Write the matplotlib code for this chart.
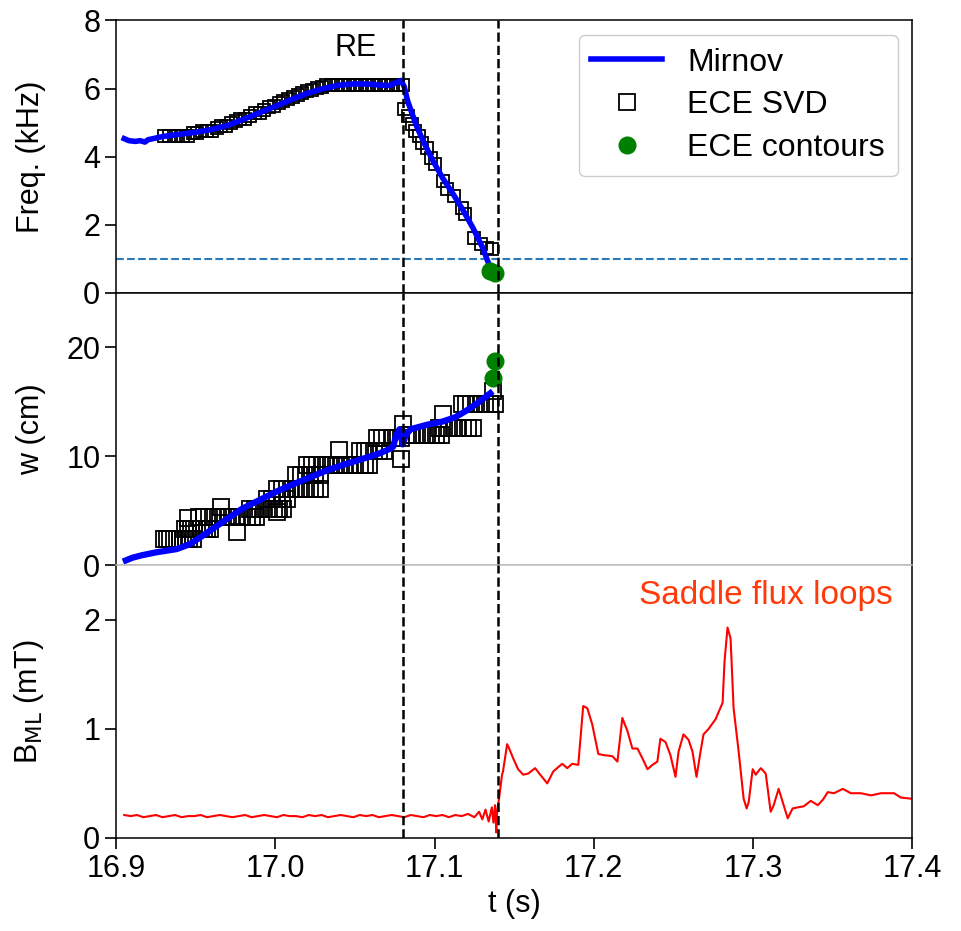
import numpy as np
import matplotlib.pyplot as plt

plt.rcParams['font.family'] = ['Liberation Sans', 'DejaVu Sans']

# frequency panel: Mirnov trace
mir_f_t = [16.905, 16.908, 16.912, 16.915, 16.918, 16.920, 16.925, 16.930, 16.940, 16.950,
           16.960, 16.970, 16.980, 16.990, 17.000, 17.010, 17.020, 17.030, 17.040, 17.050,
           17.060, 17.066, 17.072, 17.076, 17.079, 17.081, 17.083, 17.086, 17.089, 17.094,
           17.099, 17.105, 17.112, 17.118, 17.124, 17.130, 17.135]
mir_f = [4.53, 4.47, 4.45, 4.47, 4.43, 4.50, 4.55, 4.60, 4.66, 4.72,
         4.80, 4.92, 5.10, 5.29, 5.48, 5.68, 5.86, 6.00, 6.10, 6.14,
         6.13, 6.10, 6.09, 6.18, 6.24, 6.05, 5.65, 5.25, 4.86, 4.35,
         3.88, 3.38, 2.88, 2.42, 1.92, 1.35, 0.74]

# frequency panel: ECE SVD
svd_f_t = [16.930, 16.933, 16.936, 16.939, 16.942, 16.945, 16.948, 16.951, 16.954, 16.957,
           16.960, 16.963, 16.966, 16.969, 16.972, 16.975, 16.978, 16.981, 16.984, 16.987,
           16.990, 16.993, 16.996, 16.999, 17.002, 17.005, 17.008, 17.011, 17.014, 17.017,
           17.020, 17.023, 17.026, 17.029, 17.032, 17.035, 17.038, 17.041, 17.044, 17.047,
           17.050, 17.053, 17.056, 17.059, 17.062, 17.065, 17.068, 17.071, 17.074, 17.077,
           17.080, 17.0807, 17.083, 17.086, 17.088, 17.090, 17.092, 17.095, 17.098, 17.100,
           17.105, 17.108, 17.112, 17.117, 17.119, 17.125, 17.129, 17.133, 17.136]
svd_f = [4.62, 4.62, 4.62, 4.62, 4.62, 4.62, 4.70, 4.70, 4.76, 4.76,
         4.76, 4.85, 4.91, 4.91, 4.98, 5.05, 5.12, 5.12, 5.20, 5.29,
         5.29, 5.38, 5.45, 5.50, 5.58, 5.65, 5.70, 5.76, 5.82, 5.88,
         5.92, 5.97, 6.03, 6.06, 6.10, 6.12, 6.12, 6.12, 6.12, 6.12,
         6.12, 6.12, 6.12, 6.12, 6.12, 6.12, 6.12, 6.12, 6.12, 6.12,
         6.12, 5.41, 5.20, 4.97, 4.76, 4.62, 4.41, 4.27, 3.97, 3.79,
         3.29, 3.06, 2.85, 2.50, 2.32, 1.62, 1.44, 1.32, 1.29]

# ECE contours
cont_t = [17.135, 17.138]
cont_f = [0.65, 0.59]
cont_w_t = [17.137, 17.138]
cont_w = [17.2, 18.8]

# island width panel: Mirnov trace
mir_w_t = [16.906, 16.910, 16.916, 16.925, 16.938, 16.946, 16.952, 16.959, 16.969, 16.979,
           16.990, 17.001, 17.012, 17.022, 17.032, 17.042, 17.053, 17.064, 17.072, 17.074,
           17.076, 17.078, 17.080, 17.082, 17.085, 17.095, 17.105, 17.113, 17.120, 17.128,
           17.135]
mir_w = [0.46, 0.70, 0.93, 1.20, 1.50, 1.94, 2.50, 3.20, 4.20, 5.20,
         6.00, 6.80, 7.50, 8.10, 8.70, 9.20, 9.70, 10.2, 10.7, 10.9,
         12.0, 12.5, 11.1, 12.0, 12.5, 12.9, 13.2, 13.6, 14.2, 15.0,
         15.8]

# island width panel: ECE SVD
svd_w_t = [16.930, 16.932, 16.934, 16.936, 16.938, 16.940, 16.942, 16.944, 16.946, 16.948,
           16.943, 16.945, 16.947, 16.949, 16.951, 16.953, 16.955, 16.957, 16.959,
           16.945, 16.966,
           16.952, 16.955, 16.958, 16.961, 16.964, 16.967, 16.970, 16.973, 16.976, 16.979,
           16.982, 16.985, 16.988, 16.976,
           16.984, 16.987, 16.990, 16.993, 16.996, 16.999, 17.002, 17.005, 17.001,
           16.995, 16.998, 17.001, 17.004, 17.007,
           17.001, 17.004, 17.007, 17.010, 17.013, 17.016, 17.019, 17.022, 17.025, 17.028,
           17.013, 17.016, 17.019, 17.022, 17.025, 17.028,
           17.020, 17.023, 17.026, 17.029, 17.032, 17.035, 17.038, 17.041, 17.044, 17.047,
           17.050, 17.053, 17.056, 17.059, 17.040,
           17.053, 17.056, 17.059, 17.062, 17.065, 17.068,
           17.064, 17.067, 17.070, 17.073, 17.076, 17.079, 17.080, 17.079,
           17.083, 17.086, 17.089, 17.092, 17.095, 17.098, 17.101, 17.104,
           17.103, 17.106, 17.109, 17.112, 17.115, 17.118, 17.121, 17.124, 17.105,
           17.117, 17.120, 17.123, 17.126, 17.129, 17.132, 17.135, 17.138, 17.137]
svd_w = [2.4, 2.4, 2.4, 2.4, 2.4, 2.4, 2.4, 2.4, 2.4, 2.4,
         3.3, 3.3, 3.3, 3.3, 3.3, 3.3, 3.3, 3.3, 3.3,
         4.35, 5.4,
         4.4, 4.4, 4.4, 4.4, 4.4, 4.4, 4.4, 4.4, 4.4, 4.4,
         4.4, 4.4, 4.4, 3.05,
         5.2, 5.2, 5.2, 5.2, 5.2, 5.2, 5.2, 5.2, 4.9,
         6.1, 6.1, 6.1, 6.1, 6.1,
         7.0, 7.0, 7.0, 7.0, 7.0, 7.0, 7.0, 7.0, 7.0, 7.0,
         8.3, 8.3, 8.3, 8.3, 8.3, 8.3,
         9.26, 9.26, 9.26, 9.26, 9.26, 9.26, 9.26, 9.26, 9.26, 9.26,
         9.26, 9.26, 9.26, 9.26, 10.6,
         10.46, 10.46, 10.46, 10.46, 10.46, 10.46,
         11.7, 11.7, 11.7, 11.7, 11.7, 11.7, 13.0, 9.8,
         12.0, 12.0, 12.0, 12.0, 12.0, 12.0, 12.0, 12.0,
         12.6, 12.6, 12.6, 12.6, 12.6, 12.6, 12.6, 12.6, 13.9,
         14.8, 14.8, 14.8, 14.8, 14.8, 14.8, 14.8, 14.8, 16.0]

# saddle flux loops
sfl_t = [16.905, 16.909, 16.913, 16.917, 16.921, 16.925, 16.929, 16.933, 16.937, 16.941,
         16.945, 16.949, 16.953, 16.957, 16.961, 16.965, 16.969, 16.973, 16.977, 16.981,
         16.985, 16.989, 16.993, 16.997, 17.001, 17.005, 17.009, 17.013, 17.017, 17.021,
         17.025, 17.029, 17.033, 17.037, 17.041, 17.045, 17.049, 17.053, 17.057, 17.061,
         17.065, 17.069, 17.073, 17.077, 17.081, 17.085, 17.089, 17.093, 17.097, 17.101,
         17.105, 17.109, 17.113, 17.117, 17.121, 17.125, 17.128, 17.130, 17.132, 17.134,
         17.136, 17.137, 17.138, 17.1388, 17.1393, 17.1405, 17.1424, 17.1430, 17.1456, 17.1469,
         17.1494, 17.1525, 17.1557, 17.1588, 17.1632, 17.1664, 17.1708, 17.1746, 17.1802, 17.1834,
         17.1865, 17.1903, 17.1934, 17.1960, 17.1991, 17.2029, 17.2060, 17.2117, 17.2149, 17.2180,
         17.2212, 17.2243, 17.2275, 17.2306, 17.2338, 17.2369, 17.2400, 17.2419, 17.2451, 17.2482,
         17.2514, 17.2533, 17.2564, 17.2596, 17.2621, 17.2646, 17.2671, 17.2690, 17.2722, 17.2766,
         17.2810, 17.2822, 17.2841, 17.2860, 17.2879, 17.2911, 17.2942, 17.2961, 17.2974, 17.2999,
         17.3018, 17.3050, 17.3081, 17.3112, 17.3131, 17.3162, 17.3194, 17.3219, 17.3250, 17.3282,
         17.3320, 17.3364, 17.3408, 17.3440, 17.3471, 17.3510, 17.3565, 17.3616, 17.3679, 17.3742,
         17.3805, 17.3887, 17.3931, 17.3994]
sfl_b = [0.21, 0.20, 0.21, 0.19, 0.20, 0.21, 0.19, 0.20, 0.21, 0.19,
         0.20, 0.20, 0.21, 0.19, 0.20, 0.21, 0.20, 0.19, 0.20, 0.21,
         0.19, 0.20, 0.21, 0.20, 0.19, 0.21, 0.20, 0.20, 0.19, 0.21,
         0.20, 0.21, 0.19, 0.20, 0.21, 0.20, 0.19, 0.21, 0.20, 0.21,
         0.19, 0.20, 0.21, 0.20, 0.19, 0.21, 0.20, 0.19, 0.21, 0.20,
         0.21, 0.19, 0.21, 0.20, 0.22, 0.19, 0.24, 0.17, 0.26, 0.15,
         0.28, 0.14, 0.30, 0.05, 0.24, 0.36, 0.58, 0.61, 0.86, 0.82,
         0.73, 0.63, 0.58, 0.59, 0.64, 0.58, 0.50, 0.61, 0.68, 0.64,
         0.68, 0.67, 1.21, 1.19, 1.04, 0.77, 0.76, 0.75, 0.70, 1.10,
         0.98, 0.82, 0.82, 0.73, 0.63, 0.67, 0.70, 0.91, 0.88, 0.76,
         0.56, 0.79, 0.95, 0.90, 0.79, 0.56, 0.79, 0.95, 1.00, 1.09,
         1.24, 1.62, 1.93, 1.83, 1.19, 0.79, 0.36, 0.27, 0.33, 0.63,
         0.58, 0.64, 0.59, 0.24, 0.30, 0.45, 0.30, 0.18, 0.27, 0.28,
         0.29, 0.34, 0.30, 0.35, 0.42, 0.41, 0.45, 0.41, 0.41, 0.39,
         0.41, 0.41, 0.37, 0.36]

t_events = [17.08, 17.14]
f_threshold = 1.0

fig = plt.figure(figsize=(9.61, 9.31), dpi=100)
ax1, ax2, ax3 = fig.subplots(3, 1, sharex=True, gridspec_kw={'hspace': 0})
fig.subplots_adjust(left=0.121, right=0.949, top=0.978, bottom=0.1)

fs = 22

# top: frequency
ax1.plot(svd_f_t, svd_f, 's', ms=9, mfc='none', mec='black', mew=1.3, zorder=2)
ax1.plot(mir_f_t, mir_f, color='blue', lw=4, zorder=3)
ax1.plot(cont_t, cont_f, 'o', ms=12, color='green', zorder=4)
ax1.axhline(f_threshold, color='#2a7ab9', ls='--', lw=1.5)
ax1.set_ylim(0, 8)
ax1.set_yticks([0, 2, 4, 6, 8])
ax1.set_ylabel('Freq. (kHz)', fontsize=fs)
ax1.text(17.0505, 7.2, 'RE', fontsize=22, ha='center', va='center')

h1, = ax1.plot([], [], color='blue', lw=4)
h2, = ax1.plot([], [], 's', ms=12, mfc='none', mec='black', mew=1.3)
h3, = ax1.plot([], [], 'o', ms=12, color='green')
leg = ax1.legend([h1, h2, h3], ['Mirnov', 'ECE SVD', 'ECE contours'],
                 loc='upper right', fontsize=23, handlelength=2.2,
                 fancybox=True, edgecolor='#cccccc', framealpha=1,
                 borderaxespad=0.45, labelspacing=0.4)

# middle: width
ax2.plot(svd_w_t, svd_w, 's', ms=12, mfc='none', mec='black', mew=1.3, zorder=2)
ax2.plot(mir_w_t, mir_w, color='blue', lw=4.5, zorder=3)
ax2.plot(cont_w_t, cont_w, 'o', ms=12, color='green', zorder=4)
ax2.set_ylim(0, 25)
ax2.set_yticks([0, 10, 20])
ax2.set_ylabel('w (cm)', fontsize=fs)
ax2.spines['bottom'].set_color('#bbbbbb')

# bottom: saddle loops
ax3.plot(sfl_t, sfl_b, color='red', lw=1.5)
ax3.set_ylim(0, 2.5)
ax3.set_yticks([0, 1, 2])
ax3.set_ylabel('B$_{\\mathrm{ML}}$ (mT)', fontsize=fs)
ax3.spines['top'].set_color('#bbbbbb')
ax3.text(0.976, 0.889, 'Saddle flux loops', color='#ff3a0a', fontsize=24,
         ha='right', va='center', transform=ax3.transAxes)
ax3.set_xlim(16.9, 17.4)
ax3.set_xticks([16.9, 17.0, 17.1, 17.2, 17.3, 17.4])
ax3.set_xlabel('t (s)', fontsize=fs, labelpad=4)

for ax in (ax1, ax2, ax3):
    for tv in t_events:
        ax.axvline(tv, color='black', ls='--', lw=1.8, zorder=5)
    ax.tick_params(labelsize=fs, direction='out', length=8, width=1.2)
    ax.yaxis.set_label_coords(-0.088, 0.5)
    for s in ax.spines.values():
        s.set_linewidth(1.1)
ax1.tick_params(axis='x', length=0)
ax2.tick_params(axis='x', length=0)

plt.savefig('out.png', dpi=100)
